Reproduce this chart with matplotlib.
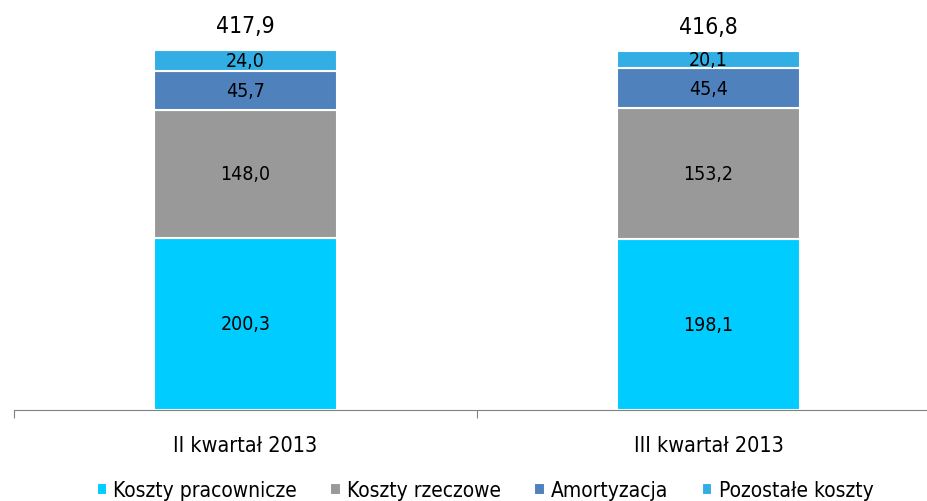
import matplotlib
matplotlib.use("Agg")
import matplotlib.pyplot as plt
import numpy as np

plt.rcParams['font.family'] = ['DejaVu Sans']
plt.rcParams['font.stretch'] = 'condensed'

quarters = ["II kwartał 2013", "III kwartał 2013"]
series = ["Koszty pracownicze", "Koszty rzeczowe", "Amortyzacja", "Pozostałe koszty"]
koszty_pracownicze = [200.3, 198.1]
koszty_rzeczowe = [148.0, 153.2]
amortyzacja = [45.7, 45.4]
pozostale = [24.0, 20.1]
totals = [417.9, 416.8]

colors = ["#00CCFF", "#999999", "#4F81BD", "#33AEE4"]


def fmt(v):
    return f"{v:.1f}".replace(".", ",")


fig = plt.figure(figsize=(9.27, 5.02), dpi=100)
ax = fig.add_axes([14 / 927, 91 / 502, 926 / 927, 396 / 502])

x = np.arange(len(quarters))
width = 0.397
bottom = np.zeros(len(quarters))
for name, vals, c in zip(series, [koszty_pracownicze, koszty_rzeczowe, amortyzacja, pozostale], colors):
    vals = np.array(vals)
    ax.bar(x, vals, width, bottom=bottom, color=c, edgecolor="white", linewidth=1.5, label=name)
    for xi, b, v in zip(x, bottom, vals):
        ax.text(xi, b + v / 2, fmt(v), ha="center", va="center", fontsize=14)
    bottom += vals

for xi, t in zip(x, totals):
    ax.text(xi, t + 29, fmt(t), ha="center", va="center", fontsize=16.5)

ax.set_xlim(-0.5, 1.5)
ax.set_ylim(0, 460)
ax.set_yticks([])
for s in ["top", "right", "left"]:
    ax.spines[s].set_visible(False)
ax.spines["bottom"].set_color("#808080")
ax.set_xticks([-0.5, 0.5, 1.5])
ax.set_xticklabels([])
ax.tick_params(axis="x", length=6, color="#808080", direction="out")
for xi, q in zip(x, quarters):
    ax.text(xi, -41, q, ha="center", va="center", fontsize=15.5)

leg = fig.legend(loc="center", bbox_to_anchor=(485 / 927, 11 / 502), ncol=4, frameon=False,
                 fontsize=15, handlelength=0.5, handleheight=0.5, handletextpad=0.3, columnspacing=1.6)

fig.savefig("out.png", dpi=100)
